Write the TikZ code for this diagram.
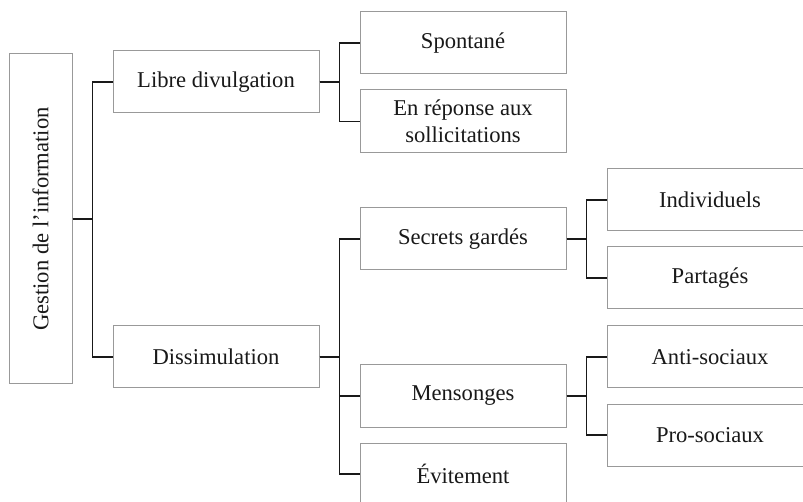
\documentclass[tikz,border=0pt]{standalone}
\usepackage{fontspec}
\setmainfont{Liberation Serif}
\begin{document}
\begin{tikzpicture}[x=1pt,y=-1pt,
  box/.style={draw=black!40, line width=1pt, minimum width=206pt, minimum height=62pt, inner sep=0pt, align=center, font=\fontsize{22.6}{26.5}\selectfont, text=black!90},
  link/.style={draw=black!90, line width=1.6pt}]
\useasboundingbox (0,0) rectangle (803,502);
\clip (0,0) rectangle (803,502);
\fill[white] (0,0) rectangle (803,502);
\node[box, minimum width=63pt, minimum height=330pt] (root) at (40.5,219) {\rotatebox{90}{Gestion de l’information}};
\node[box] (libre) at (216,82) {Libre divulgation};
\node[box] (dissim) at (216,357) {Dissimulation};
\node[box] (spont) at (463,43) {Spontané};
\node[box, minimum height=63pt] (enrep) at (463,121.5) {En réponse aux\\sollicitations};
\node[box] (secrets) at (463,239) {Secrets gardés};
\node[box] (mens) at (463,396) {Mensonges};
\node[box] (evit) at (463,474) {Évitement};
\node[box] (indiv) at (710,200) {Individuels};
\node[box] (part) at (710,278) {Partagés};
\node[box] (anti) at (710,357) {Anti-sociaux};
\node[box] (pro) at (710,435) {Pro-sociaux};
\draw[link] (root.east) -- ++(20,0) |- (libre.west);
\draw[link] (root.east) -- ++(20,0) |- (dissim.west);
\draw[link] (libre.east) -- ++(20,0) |- (spont.west);
\draw[link] (libre.east) -- ++(20,0) |- (enrep.west);
\draw[link] (dissim.east) -- ++(20,0) |- (secrets.west);
\draw[link] (dissim.east) -- ++(20,0) |- (mens.west);
\draw[link] (dissim.east) -- ++(20,0) |- (evit.west);
\draw[link] (secrets.east) -- ++(20,0) |- (indiv.west);
\draw[link] (secrets.east) -- ++(20,0) |- (part.west);
\draw[link] (mens.east) -- ++(20,0) |- (anti.west);
\draw[link] (mens.east) -- ++(20,0) |- (pro.west);
\end{tikzpicture}
\end{document}
